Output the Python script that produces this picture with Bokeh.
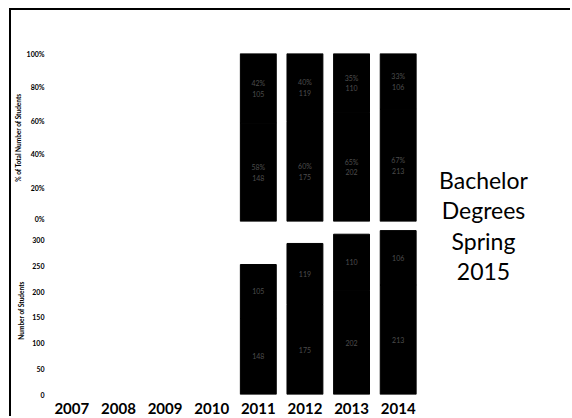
from bokeh.plotting import figure
from bokeh.layouts import row, column
from bokeh.models import Range1d, FactorRange, FixedTicker, PrintfTickFormatter, ColumnDataSource
from bokeh.core.properties import value
from bokeh.embed import file_html
from bokeh.resources import INLINE

# ---- data ----
years = ["2007", "2008", "2009", "2010", "2011", "2012", "2013", "2014"]
bar_years = ["2011", "2012", "2013", "2014"]
lower_counts = [148, 175, 202, 213]
upper_counts = [105, 119, 110, 106]
pct_ticks = [0, 20, 40, 60, 80, 100]
count_ticks = [0, 50, 100, 150, 200, 250, 300]
title_lines = ["Bachelor", "Degrees", "Spring", "2015"]

totals = [a + b for a, b in zip(lower_counts, upper_counts)]
lower_pct = [100.0 * a / t for a, t in zip(lower_counts, totals)]
upper_pct = [100.0 * b / t for b, t in zip(upper_counts, totals)]

FONT = "Lato"
BAR_W = 0.77
LABEL_COLOR = "#4d4d4d"
LEFT_W = 410

def style_common(p):
    p.outline_line_color = None
    p.xgrid.visible = False
    p.ygrid.visible = False
    p.background_fill_color = "white"
    p.border_fill_color = "white"

def style_yaxis(p, standoff, label_standoff):
    ax = p.yaxis[0]
    ax.axis_line_color = None
    ax.major_tick_line_color = None
    ax.minor_tick_line_color = None
    ax.major_tick_out = 0
    ax.major_tick_in = 0
    ax.minor_tick_out = 0
    ax.minor_tick_in = 0
    ax.major_label_text_font = FONT
    ax.major_label_text_font_style = "bold"
    ax.major_label_text_font_size = "7px"
    ax.major_label_text_color = "black"
    ax.major_label_standoff = standoff
    ax.axis_label_text_font = FONT
    ax.axis_label_text_font_style = "bold"
    ax.axis_label_text_font_size = "6.5px"
    ax.axis_label_text_color = "black"
    ax.axis_label_standoff = label_standoff

# ---- top: percent of total ----
src_pct = ColumnDataSource(dict(
    year=bar_years, lower=lower_pct, upper=upper_pct,
    ly=[v / 2 for v in lower_pct],
    uy=[l + u / 2 for l, u in zip(lower_pct, upper_pct)],
    ltxt=[f"{round(v)}%\n{c}" for v, c in zip(lower_pct, lower_counts)],
    utxt=[f"{round(v)}%\n{c}" for v, c in zip(upper_pct, upper_counts)],
))

p1 = figure(x_range=FactorRange(*years, range_padding=0), y_range=Range1d(0, 100),
            width=LEFT_W, height=212, output_backend="svg", toolbar_location=None,
            min_border_left=34, min_border_right=0, min_border_top=43, min_border_bottom=1)
style_common(p1)
p1.vbar_stack(["lower", "upper"], x="year", width=BAR_W, source=src_pct,
              color=["black", "black"], line_color="black", line_width=1)
p1.text(x="year", y="ly", text="ltxt", source=src_pct, text_align="center",
        text_baseline="middle", text_font=value(FONT), text_font_size="7px",
        text_color=LABEL_COLOR, text_line_height=1.3)
p1.text(x="year", y="uy", text="utxt", source=src_pct, text_align="center",
        text_baseline="middle", text_font=value(FONT), text_font_size="7px",
        text_color=LABEL_COLOR, text_line_height=1.3)
p1.xaxis.visible = False
p1.yaxis.ticker = FixedTicker(ticks=pct_ticks)
p1.yaxis.formatter = PrintfTickFormatter(format="%d%%")
p1.yaxis.axis_label = "% of Total Number of Students"
style_yaxis(p1, 4, 2)

# ---- bottom: number of students ----
src_cnt = ColumnDataSource(dict(
    year=bar_years, lower=lower_counts, upper=upper_counts,
    ly=[v / 2 for v in lower_counts],
    uy=[l + u / 2 for l, u in zip(lower_counts, upper_counts)],
    ltxt=[str(v) for v in lower_counts],
    utxt=[str(v) for v in upper_counts],
))

p2 = figure(x_range=p1.x_range, y_range=Range1d(0, 327),
            width=LEFT_W, height=194, output_backend="svg", toolbar_location=None,
            min_border_left=34, min_border_right=0, min_border_top=4, min_border_bottom=0)
style_common(p2)
p2.vbar_stack(["lower", "upper"], x="year", width=BAR_W, source=src_cnt,
              color=["black", "black"], line_color="black", line_width=1)
p2.text(x="year", y="ly", text="ltxt", source=src_cnt, text_align="center",
        text_baseline="middle", text_font=value(FONT), text_font_size="7px",
        text_color=LABEL_COLOR)
p2.text(x="year", y="uy", text="utxt", source=src_cnt, text_align="center",
        text_baseline="middle", text_font=value(FONT), text_font_size="7px",
        text_color=LABEL_COLOR)
p2.yaxis.ticker = FixedTicker(ticks=count_ticks)
p2.yaxis.axis_label = "Number of Students"
style_yaxis(p2, 4, 4)
xa = p2.xaxis[0]
xa.axis_line_color = None
xa.major_tick_line_color = None
xa.minor_tick_line_color = None
xa.major_tick_out = 0
xa.major_tick_in = 0
xa.major_label_text_font = FONT
xa.major_label_text_font_style = "bold"
xa.major_label_text_font_size = "15px"
xa.major_label_text_color = "black"
xa.major_label_standoff = 8

# ---- right: title ----
p3 = figure(x_range=Range1d(0, 149), y_range=Range1d(406, 0),
            width=149, height=406, output_backend="svg", toolbar_location=None,
            min_border=0)
style_common(p3)
p3.xaxis.visible = False
p3.yaxis.visible = False
p3.text(x=[62], y=[215], text=["\n".join(title_lines)], text_align="center",
        text_baseline="middle", text_font=value(FONT), text_font_size="23px",
        text_color="black", text_line_height=1.08)

layout = row(column(p1, p2, spacing=0), p3, spacing=0,
             styles={"margin-left": "9px", "margin-top": "8px",
                     "border-left": "2px solid black", "border-top": "2px solid black"})

open("out.html", "w").write(file_html(layout, INLINE))
